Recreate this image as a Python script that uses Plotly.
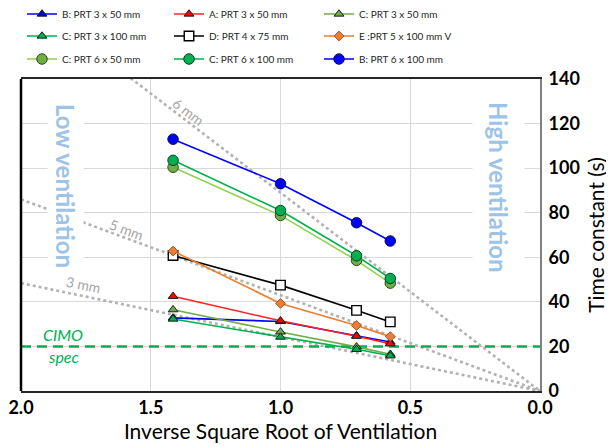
import plotly.graph_objects as go

# ---------------- data ----------------
inv_sqrt_vent = [1.414, 1.0, 0.707, 0.577]

b_prt_3x50 = [32.8, 31.2, 24.8, 22.0]
a_prt_3x50 = [42.5, 31.5, 24.6, 21.2]
c_prt_3x50 = [36.5, 26.5, 19.8, 16.5]
c_prt_3x100 = [32.3, 24.2, 18.7, 15.8]
d_prt_4x75 = [60.8, 47.5, 36.2, 31.0]
e_prt_5x100v = [62.8, 39.3, 29.4, 24.4]
c_prt_6x50 = [100.4, 78.8, 58.6, 48.4]
c_prt_6x100 = [103.5, 81.0, 60.7, 50.5]
b_prt_6x100 = [113.0, 93.0, 75.5, 67.3]

series_names = ["B: PRT 3 x 50 mm", "A: PRT 3 x 50 mm", "C: PRT 3 x 50 mm",
                "C: PRT 3 x 100 mm", "D: PRT 4 x 75 mm", "E :PRT 5 x 100 mm V",
                "C: PRT 6 x 50 mm", "C: PRT 6 x 100 mm", "B: PRT 6 x 100 mm"]
series_values = [b_prt_3x50, a_prt_3x50, c_prt_3x50, c_prt_3x100, d_prt_4x75,
                 e_prt_5x100v, c_prt_6x50, c_prt_6x100, b_prt_6x100]

guide_labels = ["3 mm", "5 mm", "6 mm"]
guide_slopes = [24.2, 43.0, 89.0]
guide_x = [2.0, 0.0]

cimo_spec = 20
cimo_x = [2.0, 0.0]

x_tick_vals = [2.0, 1.5, 1.0, 0.5, 0.0]
x_tick_text = ["2.0", "1.5", "1.0", "0.5", "0.0"]
y_tick_vals = [0, 20, 40, 60, 80, 100, 120, 140]

# ---------------- styles ----------------
FONT = "Lato, 'Open Sans', sans-serif"
styles = [
    dict(symbol="triangle-up", size=8.5, fill="#0000FF", line="#0000FF", mline="#1a1a1a"),
    dict(symbol="triangle-up", size=8.5, fill="#FF0000", line="#FF2020", mline="#1a1a1a"),
    dict(symbol="triangle-up", size=8.5, fill="#70AD47", line="#70AD47", mline="#1a1a1a"),
    dict(symbol="triangle-up", size=8.5, fill="#00B050", line="#00B050", mline="#1a1a1a"),
    dict(symbol="square", size=9.5, fill="#FFFFFF", line="#000000", mline="#000000"),
    dict(symbol="diamond", size=7.5, fill="#ED7D31", line="#ED7D31", mline="#A0522D"),
    dict(symbol="circle", size=10.5, fill="#70AD47", line="#92D050", mline="#2b4a1d"),
    dict(symbol="circle", size=10.5, fill="#00B050", line="#00B050", mline="#0d3d1d"),
    dict(symbol="circle", size=10.5, fill="#0000FF", line="#0000FF", mline="#10104a"),
]

fig = go.Figure()

# guide lines through the origin
for lab, k in zip(guide_labels, guide_slopes):
    fig.add_trace(go.Scatter(
        x=guide_x, y=[k * gx for gx in guide_x], mode="lines",
        line=dict(color="#B2B2B2", width=2.6, dash="dot"),
        showlegend=False, hoverinfo="skip"))

# CIMO spec dashed line
fig.add_trace(go.Scatter(
    x=cimo_x, y=[cimo_spec] * len(cimo_x), mode="lines",
    line=dict(color="#00B050", width=2.6, dash="10px,6px"),
    showlegend=False, hoverinfo="skip"))

# page has an 8px body margin -> figure is 8px smaller, coordinates shifted
OFF = 8
W, H = 614 - OFF, 447 - OFF
L, T, PW, PH = 13, 71, 519, 312
col_text_px = [62 - OFF, 209 - OFF, 359 - OFF]
row_px = [14 - OFF, 36 - OFF, 59 - OFF]

legend_layouts = {}
for i, (name, vals, st) in enumerate(zip(series_names, series_values, styles)):
    lid = "legend" if i == 0 else f"legend{i + 1}"
    fig.add_trace(go.Scatter(
        x=inv_sqrt_vent, y=vals, name=name, mode="lines+markers",
        line=dict(color=st["line"], width=1.6),
        marker=dict(symbol=st["symbol"], size=st["size"], color=st["fill"],
                    line=dict(color=st["mline"], width=1.4 if st["symbol"] == "square" else 1)),
        legend=lid))
    r, c = divmod(i, 3)
    legend_layouts[lid] = dict(
        x=(col_text_px[c] - 40 - L) / PW, y=(T + PH - row_px[r]) / PH,
        xanchor="left", yanchor="middle", orientation="h",
        bgcolor="rgba(0,0,0,0)", borderwidth=0,
        font=dict(family=FONT, size=10, color="#262626"))

annotations = []
# guide labels
guide_pos = [(1.760, 47.6, 11.7), (1.594, 72.5, 20.2), (1.356, 125.4, 37.3)]
for lab, (ax_, ay_, ang) in zip(guide_labels, guide_pos):
    annotations.append(dict(x=ax_, y=ay_, xref="x", yref="y", text=lab, showarrow=False,
                            textangle=ang, font=dict(family=FONT, size=14, color="#A6A6A6")))

annotations += [
    dict(x=1.830, y=92.0, xref="x", yref="y", text="<b>Low ventilation</b>", showarrow=False,
         textangle=90, bgcolor="#FFFFFF", borderpad=3,
         font=dict(family=FONT, size=24, color="#9DC3E6")),
    dict(x=0.160, y=91.3, xref="x", yref="y", text="<b>High ventilation</b>", showarrow=False,
         textangle=90, bgcolor="#FFFFFF", borderpad=11,
         font=dict(family=FONT, size=24, color="#9DC3E6")),
    dict(x=1.837, y=25.4, xref="x", yref="y", text="<i>CIMO</i>", showarrow=False,
         font=dict(family=FONT, size=16, color="#00B050")),
    dict(x=1.835, y=15.3, xref="x", yref="y", text="<i>spec</i>", showarrow=False,
         font=dict(family=FONT, size=16, color="#00B050")),
]

shapes = [
    # left border
    dict(type="line", xref="paper", yref="paper", x0=0, x1=0, y0=0, y1=1,
         line=dict(color="#000000", width=2.5), layer="above"),
]

fig.update_layout(
    width=W, height=H,
    margin=dict(l=L, r=W - L - PW, t=T, b=H - T - PH, autoexpand=False),
    paper_bgcolor="#FFFFFF", plot_bgcolor="#FFFFFF",
    font=dict(family=FONT, color="#000000"),
    showlegend=True,
    annotations=annotations,
    shapes=shapes,
    **legend_layouts,
)

fig.update_xaxes(
    range=[2.0, 0.0], tickvals=x_tick_vals, ticktext=x_tick_text,
    showgrid=True, gridcolor="#D9D9D9", gridwidth=1, zeroline=False,
    showline=True, linecolor="#262626", linewidth=1.6, mirror=True,
    ticks="", ticklabelstandoff=0,
    tickfont=dict(family=FONT, size=18, color="#000000", weight="bold"),
    title=dict(text="Inverse Square Root of Ventilation", standoff=6,
               font=dict(family=FONT, size=21, color="#000000")),
)
fig.update_yaxes(
    range=[0, 140], tickvals=y_tick_vals, side="right",
    showgrid=True, gridcolor="#D9D9D9", gridwidth=1, zeroline=False,
    showline=True, linecolor="#808080", linewidth=2,
    ticks="", ticklabelstandoff=3,
    tickfont=dict(family=FONT, size=18, color="#000000", weight="bold"),
    title=dict(text="Time constant (s)", standoff=10,
               font=dict(family=FONT, size=21, color="#000000")),
)

fig.write_html("out.html")
